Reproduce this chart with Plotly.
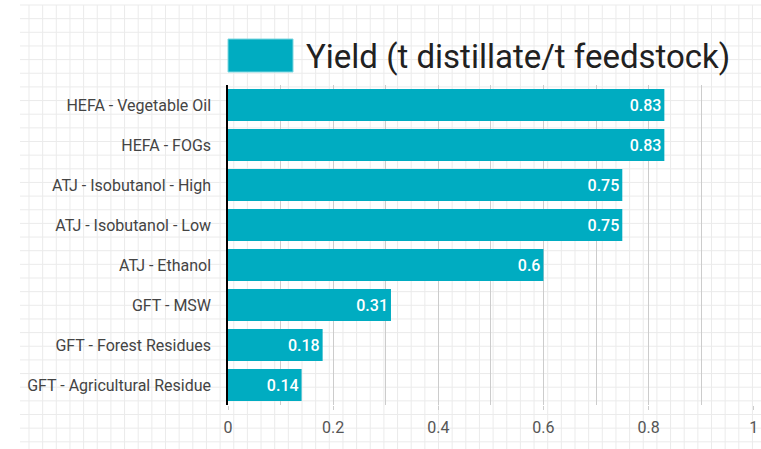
import plotly.graph_objects as go

categories = [
    "HEFA - Vegetable Oil",
    "HEFA - FOGs",
    "ATJ - Isobutanol - High",
    "ATJ - Isobutanol - Low",
    "ATJ - Ethanol",
    "GFT - MSW",
    "GFT - Forest Residues",
    "GFT - Agricultural Residue",
]
yield_values = [0.83, 0.83, 0.75, 0.75, 0.6, 0.31, 0.18, 0.14]
series_name = "Yield (t distillate/t feedstock)"
x_tick_values = [0, 0.2, 0.4, 0.6, 0.8, 1]
x_tick_labels = ["0", "0.2", "0.4", "0.6", "0.8", "1"]

W, H = 761, 449
ML, MR, MT, MB = 228, 7, 85, 44
PW, PH = W - ML - MR, H - MT - MB
BAR = "#00ACC1"


def px_x(p):
    return (p - ML) / PW


def px_y(p):
    return (H - MB - p) / PH


fig = go.Figure()
fig.add_trace(go.Bar(
    x=yield_values,
    y=categories,
    orientation="h",
    marker=dict(color=BAR, line=dict(width=0)),
    text=yield_values,
    texttemplate="%{x}",
    textposition="inside",
    insidetextanchor="end",
    textfont=dict(family="Roboto", size=16, color="#ffffff", weight=500),
    name=series_name,
    showlegend=False,
    hoverinfo="x+y",
))

shapes = []
# graph-paper page background
step = 13.65
gc = "#ebebeb"
x = 29.0
while x <= W:
    shapes.append(dict(type="line", xref="paper", yref="paper",
                       x0=px_x(x), x1=px_x(x), y0=px_y(5), y1=px_y(H),
                       line=dict(color=gc, width=1), layer="below"))
    x += step
y = 5.0
while y <= H:
    shapes.append(dict(type="line", xref="paper", yref="paper",
                       x0=px_x(20), x1=px_x(W), y0=px_y(y), y1=px_y(y),
                       line=dict(color=gc, width=1), layer="below"))
    y += step

# legend swatch
shapes.append(dict(type="rect", xref="paper", yref="paper",
                   x0=px_x(228), x1=px_x(293), y0=px_y(72), y1=px_y(39),
                   fillcolor=BAR, line=dict(color="#7fd6e0", width=1)))

fig.update_layout(
    width=W, height=H,
    margin=dict(l=ML, r=MR, t=MT, b=MB, pad=0, autoexpand=False),
    paper_bgcolor="white",
    plot_bgcolor="rgba(0,0,0,0)",
    font=dict(family="Roboto", size=16, color="#555555"),
    bargap=0.2,
    shapes=shapes,
    annotations=[dict(
        text=series_name, xref="paper", yref="paper",
        x=px_x(304), y=px_y(56), xanchor="left", yanchor="middle",
        showarrow=False, font=dict(family="Roboto", size=33, color="#212121"),
    )],
    xaxis=dict(
        range=[0, 1.0005],
        tickvals=x_tick_values,
        ticktext=x_tick_labels,
        showgrid=True, gridcolor="#cccccc", gridwidth=1,
        minor=dict(dtick=0.1, tick0=0, showgrid=True, gridcolor="#cccccc", gridwidth=1),
        zeroline=False,
        ticks="outside", ticklen=4, tickcolor="#cccccc",
        ticklabelstandoff=4,
        showline=False,
        automargin=False,
        tickfont=dict(family="Roboto", size=16, color="#555555"),
        fixedrange=True,
    ),
    yaxis=dict(
        autorange="reversed",
        showgrid=False,
        showline=True, linecolor="#000000", linewidth=1.5,
        ticks="", ticklabelstandoff=12,
        automargin=False,
        tickfont=dict(family="Roboto", size=16, color="#444444"),
        fixedrange=True,
    ),
)

fig.write_html("out.html", config={"displayModeBar": False})

with open("out.html", "r", encoding="utf-8") as f:
    html = f.read()
html = html.replace("<head>", "<head><style>html,body{margin:0;padding:0;overflow:hidden;}</style>", 1)
with open("out.html", "w", encoding="utf-8") as f:
    f.write(html)
